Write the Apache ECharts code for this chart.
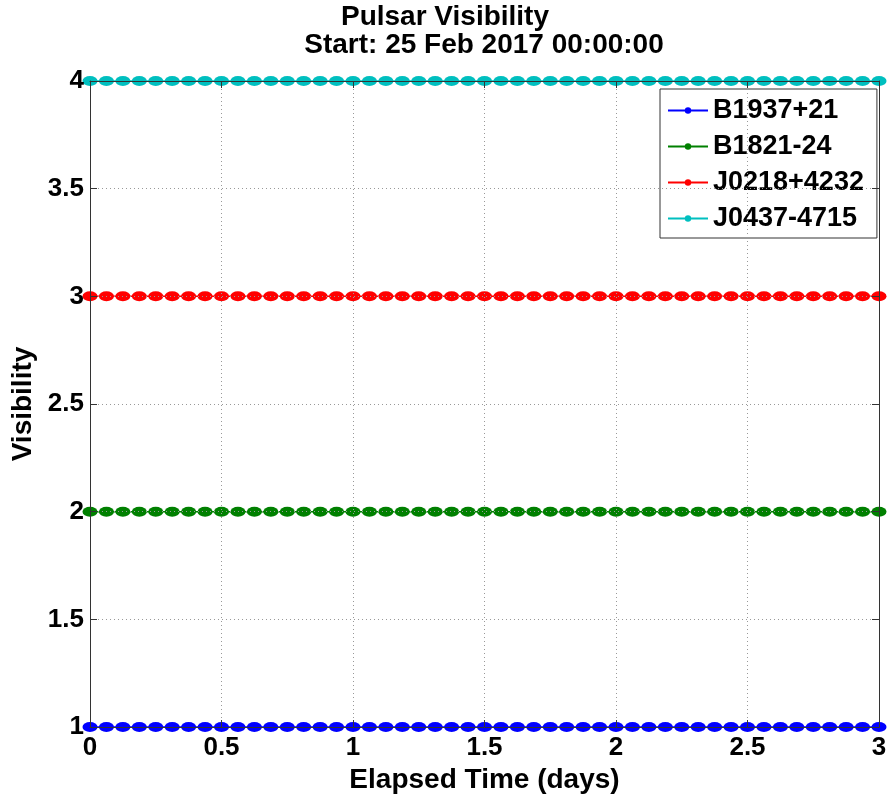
<!DOCTYPE html>
<html>
<head>
<meta charset="utf-8">
<script src="https://cdn.jsdelivr.net/npm/echarts@6/dist/echarts.min.js"></script>
<style>html,body{margin:0;padding:0;background:#fff}#c{width:888px;height:794px}</style>
</head>
<body>
<div id="c"></div>
<script>
// Elapsed time (days), one sample every 1.5 hours
const elapsedDays = [0, 0.0625, 0.125, 0.1875, 0.25, 0.3125, 0.375, 0.4375, 0.5, 0.5625, 0.625, 0.6875, 0.75, 0.8125, 0.875, 0.9375,
  1, 1.0625, 1.125, 1.1875, 1.25, 1.3125, 1.375, 1.4375, 1.5, 1.5625, 1.625, 1.6875, 1.75, 1.8125, 1.875, 1.9375,
  2, 2.0625, 2.125, 2.1875, 2.25, 2.3125, 2.375, 2.4375, 2.5, 2.5625, 2.625, 2.6875, 2.75, 2.8125, 2.875, 2.9375, 3];
const seriesNames = ['B1937+21', 'B1821-24', 'J0218+4232', 'J0437-4715'];
const visB1937 = [1,1,1,1,1,1,1,1,1,1,1,1,1,1,1,1,1,1,1,1,1,1,1,1,1,1,1,1,1,1,1,1,1,1,1,1,1,1,1,1,1,1,1,1,1,1,1,1,1];
const visB1821 = [2,2,2,2,2,2,2,2,2,2,2,2,2,2,2,2,2,2,2,2,2,2,2,2,2,2,2,2,2,2,2,2,2,2,2,2,2,2,2,2,2,2,2,2,2,2,2,2,2];
const visJ0218 = [3,3,3,3,3,3,3,3,3,3,3,3,3,3,3,3,3,3,3,3,3,3,3,3,3,3,3,3,3,3,3,3,3,3,3,3,3,3,3,3,3,3,3,3,3,3,3,3,3];
const visJ0437 = [4,4,4,4,4,4,4,4,4,4,4,4,4,4,4,4,4,4,4,4,4,4,4,4,4,4,4,4,4,4,4,4,4,4,4,4,4,4,4,4,4,4,4,4,4,4,4,4,4];
const seriesColors = ['#0000ff', '#008000', '#ff0000', '#00bfbf'];
const titleLine1 = 'Pulsar Visibility';
const titleLine2 = 'Start: 25 Feb 2017 00:00:00';

const allValues = [visB1937, visB1821, visJ0218, visJ0437];
const FONT = '"Liberation Sans", Arial, sans-serif';

const chart = echarts.init(document.getElementById('c'), null, {renderer: 'canvas'});

const series = seriesNames.map((name, i) => ({
  name: name,
  type: 'line',
  data: elapsedDays.map((t, k) => [t, allValues[i][k]]),
  symbol: 'circle',
  symbolSize: [15, 10],
  showAllSymbol: true,
  clip: false,
  z: 3 + i,
  itemStyle: {color: seriesColors[i], borderWidth: 0},
  lineStyle: {color: seriesColors[i], width: 1.5},
  emphasis: {disabled: true}
}));

const axisLabelStyle = {color: '#000', fontFamily: FONT, fontWeight: 'bold', fontSize: 26};
const splitStyle = {show: true, lineStyle: {color: '#999', type: [1, 3], width: 1}};

chart.setOption({
  animation: false,
  backgroundColor: '#fff',
  graphic: [
    {type: 'text', x: 445, y: 17, z: 100,
      style: {text: titleLine1, x: 0, y: 0, textAlign: 'center', textVerticalAlign: 'middle',
        fontFamily: FONT, fontWeight: 'bold', fontSize: 28, fill: '#000'}},
    {type: 'text', x: 484, y: 45, z: 100,
      style: {text: titleLine2, x: 0, y: 0, textAlign: 'center', textVerticalAlign: 'middle',
        fontFamily: FONT, fontWeight: 'bold', fontSize: 28, fill: '#000'}}
  ],
  grid: {left: 90, right: 9, top: 81, bottom: 67, show: false, containLabel: false, outerBoundsMode: 'none'},
  legend: {
    orient: 'vertical',
    left: 660, top: 89,
    padding: [8, 13, 6, 7],
    itemGap: 9,
    itemWidth: 40,
    itemHeight: 8,
    backgroundColor: '#fff',
    borderColor: '#333',
    borderWidth: 1,
    borderRadius: 0,
    textStyle: {color: '#000', fontFamily: FONT, fontWeight: 'bold', fontSize: 27, lineHeight: 27, padding: [0, 0, 0, 0]},
    data: seriesNames
  },
  xAxis: [{
    type: 'value', position: 'bottom', min: 0, max: 3, interval: 0.5, z: 10,
    name: 'Elapsed Time (days)', nameLocation: 'middle', nameGap: 34,
    nameTextStyle: {color: '#000', fontFamily: FONT, fontWeight: 'bold', fontSize: 28},
    axisLine: {show: true, onZero: false, lineStyle: {color: '#333', width: 1}},
    axisTick: {show: true, inside: true, length: 7, lineStyle: {color: '#333'}},
    axisLabel: Object.assign({margin: 8}, axisLabelStyle),
    splitLine: splitStyle
  }, {
    type: 'value', position: 'top', min: 0, max: 3, interval: 0.5, z: 10,
    axisLine: {show: true, onZero: false, lineStyle: {color: '#333', width: 1}},
    axisTick: {show: true, inside: true, length: 7, lineStyle: {color: '#333'}},
    axisLabel: {show: false}, splitLine: {show: false}
  }],
  yAxis: [{
    type: 'value', position: 'left', min: 1, max: 4, interval: 0.5, z: 10,
    name: 'Visibility', nameLocation: 'middle', nameGap: 53, nameRotate: 90,
    nameTextStyle: {color: '#000', fontFamily: FONT, fontWeight: 'bold', fontSize: 28},
    axisLine: {show: true, onZero: false, lineStyle: {color: '#333', width: 1}},
    axisTick: {show: true, inside: true, length: 7, lineStyle: {color: '#333'}},
    axisLabel: Object.assign({margin: 6}, axisLabelStyle),
    splitLine: splitStyle
  }, {
    type: 'value', position: 'right', min: 1, max: 4, interval: 0.5, z: 10,
    axisLine: {show: true, onZero: false, lineStyle: {color: '#333', width: 1}},
    axisTick: {show: true, inside: true, length: 7, lineStyle: {color: '#333'}},
    axisLabel: {show: false}, splitLine: {show: false}
  }],
  series: series
});
</script>
</body>
</html>
